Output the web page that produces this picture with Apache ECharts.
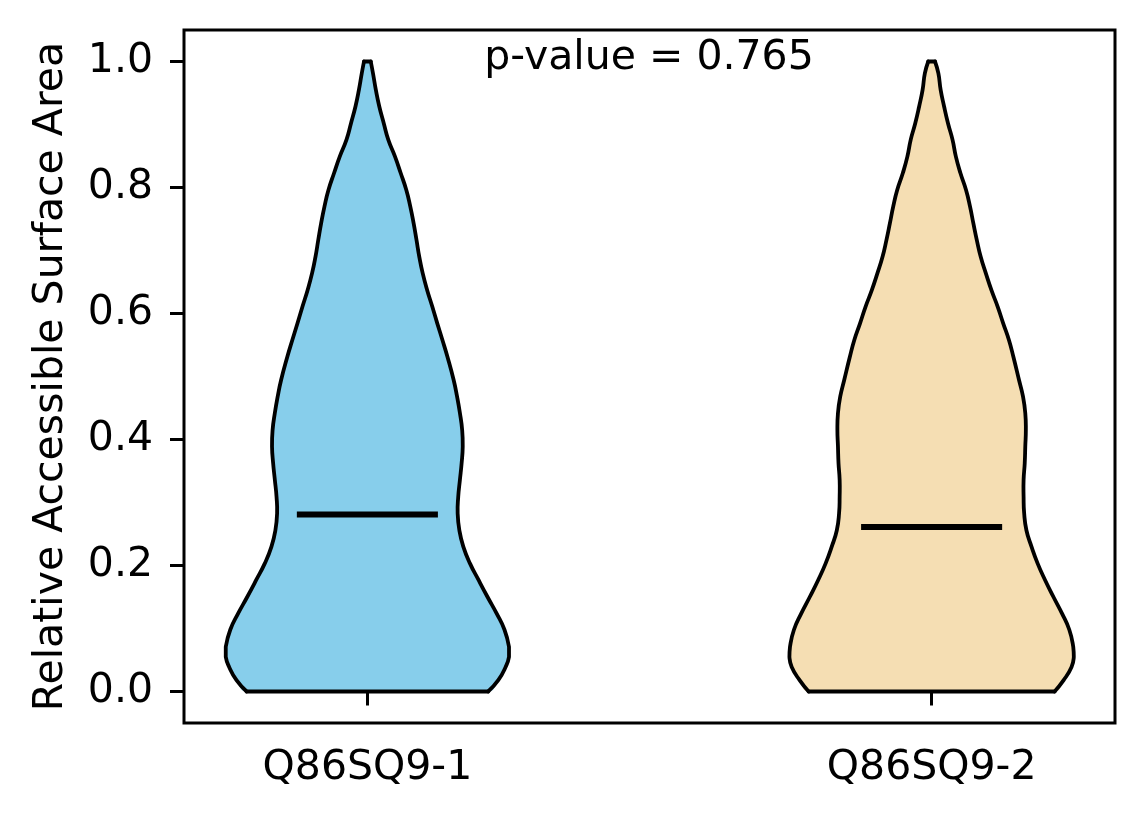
<!DOCTYPE html>
<html>
<head>
<meta charset="utf-8">
<script src="https://cdn.jsdelivr.net/npm/echarts@6/dist/echarts.min.js"></script>
<style>
html, body { margin: 0; padding: 0; background: #fff; }
#chart { width: 1144px; height: 824px; }
</style>
</head>
<body>
<div id="chart"></div>
<script>
// groups and their x positions
var categories = ["Q86SQ9-1", "Q86SQ9-2"];
var positions = [1, 2];
// y levels where the violin outline was read
var yLevels = [0.000, 0.018, 0.039, 0.055, 0.071, 0.098, 0.124, 0.150, 0.177, 0.203,
               0.230, 0.256, 0.283, 0.309, 0.336, 0.362, 0.389, 0.415, 0.442, 0.468,
               0.494, 0.531, 0.558, 0.584, 0.611, 0.637, 0.664, 0.690, 0.717, 0.743,
               0.770, 0.796, 0.823, 0.849, 0.876, 0.902, 0.929, 0.955, 0.981, 1.000];
// half widths of each violin at those levels (x units)
var halfWidths1 = [0.214, 0.232, 0.245, 0.251, 0.251, 0.243, 0.229, 0.213, 0.197, 0.182,
                   0.170, 0.163, 0.160, 0.161, 0.164, 0.167, 0.169, 0.168, 0.164, 0.159,
                   0.153, 0.142, 0.133, 0.124, 0.115, 0.106, 0.098, 0.092, 0.087, 0.082,
                   0.076, 0.069, 0.059, 0.049, 0.037, 0.029, 0.021, 0.015, 0.010, 0.006];
var halfWidths2 = [0.218, 0.234, 0.248, 0.252, 0.251, 0.244, 0.231, 0.216, 0.201, 0.188,
                   0.177, 0.168, 0.164, 0.163, 0.163, 0.165, 0.166, 0.167, 0.166, 0.162,
                   0.155, 0.145, 0.137, 0.127, 0.117, 0.106, 0.096, 0.087, 0.080, 0.074,
                   0.068, 0.061, 0.051, 0.043, 0.037, 0.029, 0.022, 0.016, 0.012, 0.006];
var medians = [0.281, 0.261];
var yTicks = [0, 0.2, 0.4, 0.6, 0.8, 1.0];
var pValueText = "p-value = 0.765";

var profiles = [halfWidths1, halfWidths2];
var colors = ["#87CEEB", "#F5DEB3"];
var font = "DejaVu Sans";

var myChart = echarts.init(document.getElementById("chart"));

// bounding box of points, used to keep the smoothed curve inside
function bbox(pts) {
    var x0 = Infinity, y0 = Infinity, x1 = -Infinity, y1 = -Infinity;
    pts.forEach(function (p) {
        x0 = Math.min(x0, p[0]); y0 = Math.min(y0, p[1]);
        x1 = Math.max(x1, p[0]); y1 = Math.max(y1, p[1]);
    });
    return [[x0, y0], [x1, y1]];
}

function renderViolin(params, api) {
    var i = params.dataIndex;
    var pos = positions[i];
    var hw = profiles[i];
    var right = [], left = [];
    for (var k = 0; k < yLevels.length; k++) {
        right.push(api.coord([pos + hw[k], yLevels[k]]));
        left.unshift(api.coord([pos - hw[k], yLevels[k]]));
    }
    var all = right.concat(left);
    var a = api.coord([pos - 0.125, medians[i]]);
    var b = api.coord([pos + 0.125, medians[i]]);
    var edge = { fill: "none", stroke: "#000", lineWidth: 3.8, lineJoin: "round", lineCap: "round" };
    var sm = 0.5;
    return {
        type: "group",
        children: [
            // fill
            {
                type: "polygon",
                shape: { points: all, smooth: sm, smoothConstraint: bbox(all) },
                style: { fill: colors[i] }
            },
            // curved sides and flat top / bottom
            { type: "polyline", shape: { points: right, smooth: sm, smoothConstraint: bbox(all) }, style: edge },
            { type: "polyline", shape: { points: left, smooth: sm, smoothConstraint: bbox(all) }, style: edge },
            { type: "line", shape: { x1: right[0][0], y1: right[0][1], x2: left[left.length - 1][0], y2: left[left.length - 1][1] }, style: edge },
            { type: "line", shape: { x1: right[right.length - 1][0], y1: right[right.length - 1][1], x2: left[0][0], y2: left[0][1] }, style: edge },
            // median
            {
                type: "line",
                shape: { x1: a[0], y1: a[1], x2: b[0], y2: b[1] },
                style: { stroke: "#000", lineWidth: 6 }
            }
        ]
    };
}

var option = {
    animation: false,
    grid: {
        left: 184, right: 29, top: 30, bottom: 101,
        show: true, borderColor: "#000", borderWidth: 3
    },
    xAxis: {
        type: "value",
        min: 0.675,
        max: 2.325,
        splitLine: { show: false },
        axisLine: { show: false },
        axisTick: { show: true, customValues: positions, length: 14, lineStyle: { color: "#000", width: 3 } },
        axisLabel: {
            customValues: positions,
            formatter: function (v) { return categories[positions.indexOf(v)]; },
            color: "#000", fontSize: 41, fontFamily: font, margin: 25
        }
    },
    yAxis: {
        type: "value",
        min: -0.05,
        max: 1.05,
        splitLine: { show: false },
        axisLine: { show: false },
        axisTick: { show: true, customValues: yTicks, length: 14, lineStyle: { color: "#000", width: 3 } },
        axisLabel: {
            customValues: yTicks,
            formatter: function (v) { return v.toFixed(1); },
            color: "#000", fontSize: 41, fontFamily: font, margin: 31
        },
        name: "Relative Accessible Surface Area",
        nameLocation: "middle",
        nameGap: 112,
        nameTextStyle: { color: "#000", fontSize: 41, fontFamily: font }
    },
    graphic: [
        {
            type: "text",
            x: 649,
            y: 58,
            style: {
                text: pValueText,
                fill: "#000",
                fontSize: 41,
                fontFamily: font,
                align: "center",
                verticalAlign: "middle"
            }
        }
    ],
    series: [
        {
            type: "custom",
            renderItem: renderViolin,
            data: [[1, 0.5], [2, 0.5]]
        }
    ]
};
myChart.setOption(option);
</script>
</body>
</html>
